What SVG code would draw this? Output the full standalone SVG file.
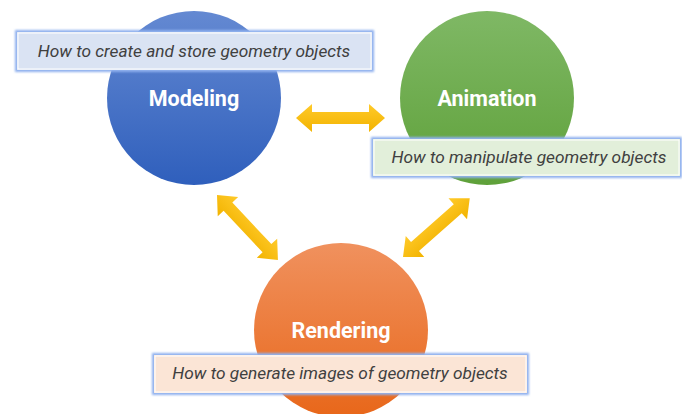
<svg xmlns="http://www.w3.org/2000/svg" width="682" height="414" viewBox="0 0 682 414">
  <style>
    .title { font-family: Roboto, "Liberation Sans", sans-serif; font-weight: bold; font-size: 21.5px; fill: #ffffff; text-anchor: middle; }
    .desc { font-family: Roboto, "Liberation Sans", sans-serif; font-style: italic; font-size: 17.3px; fill: #404040; text-anchor: middle; }
    .glow { fill: none; stroke: #8fb0ee; stroke-width: 4; filter: url(#blur); }
    .edge { fill: none; stroke: #ffffff; stroke-width: 1; }
  </style>
  <defs>
    <linearGradient id="gBlue" x1="0" y1="0" x2="0" y2="1">
      <stop offset="0" stop-color="#6489d2"/>
      <stop offset="1" stop-color="#2f5fbc"/>
    </linearGradient>
    <linearGradient id="gGreen" x1="0" y1="0" x2="0" y2="1">
      <stop offset="0" stop-color="#7fb865"/>
      <stop offset="1" stop-color="#5fa13a"/>
    </linearGradient>
    <linearGradient id="gOrange" x1="0" y1="0" x2="0" y2="1">
      <stop offset="0" stop-color="#f0915e"/>
      <stop offset="1" stop-color="#e8671a"/>
    </linearGradient>
    <linearGradient id="gYellow" x1="0" y1="0" x2="0" y2="1">
      <stop offset="0" stop-color="#ffca2a"/>
      <stop offset="1" stop-color="#f2b300"/>
    </linearGradient>
    <filter id="blur" x="-5%" y="-30%" width="110%" height="160%">
      <feGaussianBlur stdDeviation="1.2"/>
    </filter>
    <path id="dbl" d="M0,0 L16,-14 L16,-6 L73,-6 L73,-14 L89,0 L73,14 L73,6 L16,6 L16,14 Z" fill="url(#gYellow)"/>
  </defs>
  <rect width="682" height="414" fill="#ffffff"/>

  <g id="connectors">
    <use href="#dbl" transform="translate(296,118)"/>
    <use href="#dbl" transform="translate(217,195) rotate(46.8)"/>
    <use href="#dbl" transform="translate(403,257) rotate(-41.4)"/>
  </g>

  <g id="modeling">
    <circle cx="194" cy="98" r="87" fill="url(#gBlue)"/>
    <text class="title" x="194" y="106">Modeling</text>
  </g>
  <g id="animation">
    <circle cx="487" cy="98" r="87" fill="url(#gGreen)"/>
    <text class="title" x="487" y="106">Animation</text>
  </g>
  <g id="rendering">
    <circle cx="341" cy="330" r="87" fill="url(#gOrange)"/>
    <text class="title" x="341" y="338">Rendering</text>
  </g>

  <g id="modeling-desc">
    <rect class="glow" x="17" y="32" width="355" height="38"/>
    <rect x="17" y="32" width="355" height="38" fill="#dae3f3"/>
    <rect class="edge" x="18" y="33" width="353" height="36"/>
    <text class="desc" x="194" y="57">How to create and store geometry objects</text>
  </g>
  <g id="animation-desc">
    <rect class="glow" x="373" y="139" width="307" height="37"/>
    <rect x="373" y="139" width="307" height="37" fill="#e2efda"/>
    <rect class="edge" x="374" y="140" width="305" height="35"/>
    <text class="desc" x="529" y="163">How to manipulate geometry objects</text>
  </g>
  <g id="rendering-desc">
    <rect class="glow" x="154" y="355" width="373" height="38"/>
    <rect x="154" y="355" width="373" height="38" fill="#fbe5d6"/>
    <rect class="edge" x="155" y="356" width="371" height="36"/>
    <text class="desc" x="340" y="379">How to generate images of geometry objects</text>
  </g>
</svg>
